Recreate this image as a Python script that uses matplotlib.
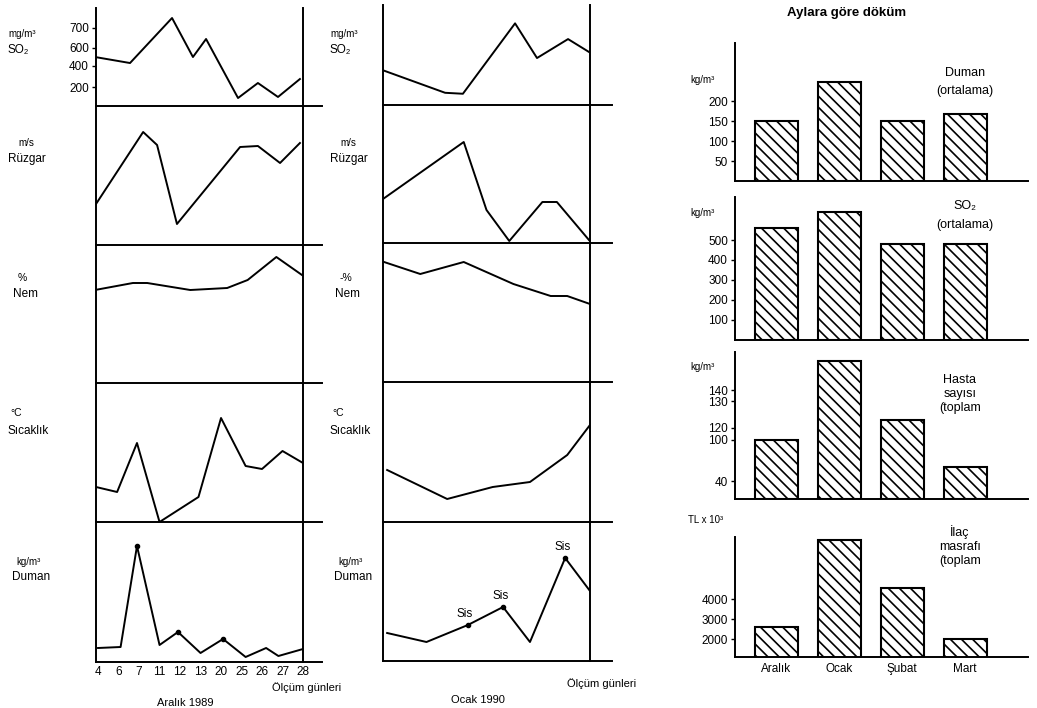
import numpy as np
import matplotlib.pyplot as plt

plt.rcParams['font.family'] = ['Liberation Sans', 'DejaVu Sans']
plt.rcParams['hatch.linewidth'] = 1.2

W, H = 1037, 708

DAYS = ['4', '6', '7', '11', '12', '13', '20', '25', '26', '27', '28']
MONTHS = ['Aralık', 'Ocak', 'Şubat', 'Mart']

# Aralik 1989, x is the slot of the measuring day (0..10)
so2_dec_x = [-0.15, 1.56, 3.61, 4.63, 5.27, 6.83, 7.8, 8.78, 9.85]
so2_dec = [500, 433, 750, 500, 645, 84, 238, 95, 276]
wind_dec_x = [-0.1, 2.2, 2.88, 3.85, 6.93, 7.8, 8.88, 9.85]
wind_dec = [41, 113, 100, 21, 98, 99, 82, 102]
nem_dec_x = [-0.15, 1.7, 2.4, 4.5, 6.3, 7.3, 8.7, 9.95]
nem_dec = [93, 100, 100, 93, 95, 103, 126, 108]
temp_dec_x = [-0.1, 0.93, 1.9, 3.0, 4.9, 6.0, 7.2, 8.0, 9.0, 10.0]
temp_dec = [35, 30, 79, 0, 25, 104, 56, 53, 71, 59]
smoke_dec_x = [0, 1.1, 1.9, 3.0, 3.9, 5.0, 6.1, 7.2, 8.2, 8.8, 10.0]
smoke_dec = [14, 15, 116, 17, 30, 9, 23, 5, 14, 6, 13]
smoke_dec_dots = [2, 4, 6]

# Ocak 1990
so2_jan_x = [0, 3.0, 3.86, 6.38, 7.44, 8.94, 9.95]
so2_jan = [343, 126, 116, 710, 467, 633, 533]
wind_jan_x = [0, 3.9, 5.0, 6.1, 7.7, 8.4, 9.95]
wind_jan = [44, 101, 33, 2, 41, 41, 3]
nem_jan_x = [0.05, 1.8, 3.9, 6.3, 8.1, 8.9, 10]
nem_jan = [120, 108, 120, 98, 86, 86, 78]
temp_jan_x = [0.2, 3.1, 5.3, 7.1, 8.9, 10]
temp_jan = [52, 23, 35, 40, 67, 97]
smoke_jan_x = [0.2, 2.1, 4.1, 5.8, 7.1, 8.8, 10]
smoke_jan = [28, 19, 36, 54, 19, 103, 70]
sis_jan = [2, 3, 5]

# monthly breakdown
smoke_avg = [150, 247, 150, 168]
so2_avg = [560, 640, 480, 480]
patients = [100, 167, 123, 60]
drug_cost = [2600, 6950, 4550, 2000]

SO2_TICKS = [200, 400, 600, 700]
so2_warp_v = [0, 200, 400, 600, 700, 800]
so2_warp_p = [0, 19, 40, 58, 78, 98]
PAT_TICKS = [40, 100, 120, 130, 140]
pat_warp_v = [0, 40, 100, 120, 130, 140, 175]
pat_warp_p = [0, 18, 60, 72, 99, 110, 148.5]

TICK_FS = 8.5
LAB_FS = 8.5
UNIT_FS = 7

fig = plt.figure(figsize=(W / 100, H / 100), dpi=100)


def rect(x0, y0, x1, y1):
    return [x0 / W, 1 - y1 / H, (x1 - x0) / W, (y1 - y0) / H]


def label(x, y, s, **kw):
    kw.setdefault('fontsize', LAB_FS)
    kw.setdefault('va', 'center')
    fig.text(x / W, 1 - y / H, s, **kw)


def warp(ax, vals, pos):
    ax.set_yscale('function', functions=(
        lambda v: np.interp(v, vals, pos),
        lambda p: np.interp(p, pos, vals)))


def line_panel(x0, x1, y0, y1, xs, ys, xlim, ext):
    ax = fig.add_axes(rect(x0, y0, x1, y1))
    ax.plot(xs, ys, color='k', lw=1.4)
    ax.set_xlim(*xlim)
    ax.set_ylim(0, y1 - y0)
    for s in ['top', 'bottom']:
        ax.spines[s].set_visible(False)
    for s in ['left', 'right']:
        ax.spines[s].set_linewidth(1.4)
    ax.plot([0, 1 + ext], [0, 0], color='k', lw=1.4,
            transform=ax.transAxes, clip_on=False)
    ax.set_xticks([])
    ax.set_yticks([])
    ax.patch.set_alpha(0)
    return ax


# ---- left column: Aralik 1989
ys_l = [8, 106, 245, 383, 522, 662]
xl = (-0.1, 10.0)
a1 = line_panel(96, 303, ys_l[0], ys_l[1], so2_dec_x, so2_dec, xl, 0.092)
warp(a1, so2_warp_v, so2_warp_p)
a1.set_ylim(0, 800)
a1.set_yticks(SO2_TICKS)
a1.set_yticklabels([str(t) for t in SO2_TICKS], fontsize=TICK_FS)
a1.tick_params(axis='y', length=3, width=1, pad=2)
line_panel(96, 303, ys_l[1], ys_l[2], wind_dec_x, wind_dec, xl, 0.092)
line_panel(96, 303, ys_l[2], ys_l[3], nem_dec_x, nem_dec, xl, 0.092)
line_panel(96, 303, ys_l[3], ys_l[4], temp_dec_x, temp_dec, xl, 0.092)
a5 = line_panel(96, 303, ys_l[4], ys_l[5], smoke_dec_x, smoke_dec, xl, 0.092)
a5.plot([smoke_dec_x[i] for i in smoke_dec_dots],
        [smoke_dec[i] for i in smoke_dec_dots], 'ko', ms=3)
a5.set_xticks(range(len(DAYS)))
a5.set_xticklabels(DAYS, fontsize=TICK_FS)
a5.tick_params(axis='x', length=0, pad=3)

# ---- middle column: Ocak 1990
ys_m = [5, 105, 243, 382, 522, 661]
xm = (0, 10)
b1 = line_panel(383, 590, ys_m[0], ys_m[1], so2_jan_x, so2_jan, xm, 0.106)
warp(b1, so2_warp_v, so2_warp_p)
b1.set_ylim(0, 800)
b1.set_yticks([])
b1.minorticks_off()
line_panel(383, 590, ys_m[1], ys_m[2], wind_jan_x, wind_jan, xm, 0.106)
line_panel(383, 590, ys_m[2], ys_m[3], nem_jan_x, nem_jan, xm, 0.106)
line_panel(383, 590, ys_m[3], ys_m[4], temp_jan_x, temp_jan, xm, 0.106)
b5 = line_panel(383, 590, ys_m[4], ys_m[5], smoke_jan_x, smoke_jan, xm, 0.106)
for i in sis_jan:
    b5.plot(smoke_jan_x[i], smoke_jan[i], 'ko', ms=3)
    b5.annotate('Sis', (smoke_jan_x[i], smoke_jan[i]), xytext=(-2, 6),
                textcoords='offset points', ha='center', fontsize=LAB_FS)

# row labels
for x0 in (8, 330):
    label(x0, 34, 'mg/m³', fontsize=UNIT_FS)
    label(x0, 50, 'SO₂', fontsize=LAB_FS)
    label(x0 + 10, 143, 'm/s', fontsize=UNIT_FS)
    label(x0, 159, 'Rüzgar')
    label(x0 + 10, 278, '%' if x0 == 8 else '-%', fontsize=UNIT_FS + 0.5)
    label(x0 + 5, 294, 'Nem')
    label(x0 + 2, 413, '°C', fontsize=UNIT_FS + 0.5)
    label(x0, 431, 'Sıcaklık')
    label(x0 + 8, 562, 'kg/m³', fontsize=UNIT_FS)
    label(x0 + 4, 577, 'Duman')

label(272, 688, 'Ölçüm günleri', fontsize=8)
label(185, 703, 'Aralık 1989', ha='center', fontsize=8)
label(567, 684, 'Ölçüm günleri', fontsize=8)
label(478, 700, 'Ocak 1990', ha='center', fontsize=8)

# ---- right column: monthly bars
label(847, 13, 'Aylara göre döküm', ha='center', fontsize=9.5, fontweight='bold')


def bar_panel(y0, y1, vals, ylim, ticks):
    ax = fig.add_axes(rect(735, y0, 1028, y1))
    ax.bar(range(len(vals)), vals, width=0.68, color='white',
           edgecolor='k', lw=1.5, hatch='\\\\\\')
    ax.set_xlim(-0.66, 4.0)
    ax.set_ylim(*ylim)
    for s in ['top', 'right']:
        ax.spines[s].set_visible(False)
    for s in ['left', 'bottom']:
        ax.spines[s].set_linewidth(1.4)
    ax.set_xticks([])
    ax.set_yticks(ticks)
    ax.set_yticklabels([str(t) for t in ticks], fontsize=TICK_FS)
    ax.tick_params(axis='y', length=3, width=1, pad=2)
    ax.patch.set_alpha(0)
    return ax


bar_panel(43, 181, smoke_avg, (0, 345), [50, 100, 150, 200])
bar_panel(197, 340, so2_avg, (0, 715), [100, 200, 300, 400, 500])
c3 = bar_panel(352, 499, patients, (0, 175), PAT_TICKS)
warp(c3, pat_warp_v, pat_warp_p)
c3.set_ylim(0, 175)
c3.set_yticks(PAT_TICKS)
c3.set_yticklabels([str(t) for t in PAT_TICKS], fontsize=TICK_FS)
c3.minorticks_off()
c4 = bar_panel(537, 657, drug_cost, (1100, 7100), [2000, 3000, 4000])
c4.set_xticks(range(len(MONTHS)))
c4.set_xticklabels(MONTHS, fontsize=8.5)
c4.tick_params(axis='x', length=0, pad=4)

label(690, 80, 'kg/m³', fontsize=UNIT_FS)
label(965, 73, 'Duman', ha='center', fontsize=9)
label(965, 91, '(ortalama)', ha='center', fontsize=9)
label(690, 213, 'kg/m³', fontsize=UNIT_FS)
label(965, 206, 'SO₂', ha='center', fontsize=9)
label(965, 225, '(ortalama)', ha='center', fontsize=9)
label(690, 367, 'kg/m³', fontsize=UNIT_FS)
label(960, 380, 'Hasta', ha='center', fontsize=9)
label(960, 394, 'sayısı', ha='center', fontsize=9)
label(960, 408, '(toplam', ha='center', fontsize=9)
label(688, 520, 'TL x 10³', fontsize=UNIT_FS)
label(960, 532, 'İlaç', ha='center', fontsize=9)
label(960, 547, 'masrafı', ha='center', fontsize=9)
label(960, 561, '(toplam', ha='center', fontsize=9)

fig.savefig('out.png', dpi=100)
